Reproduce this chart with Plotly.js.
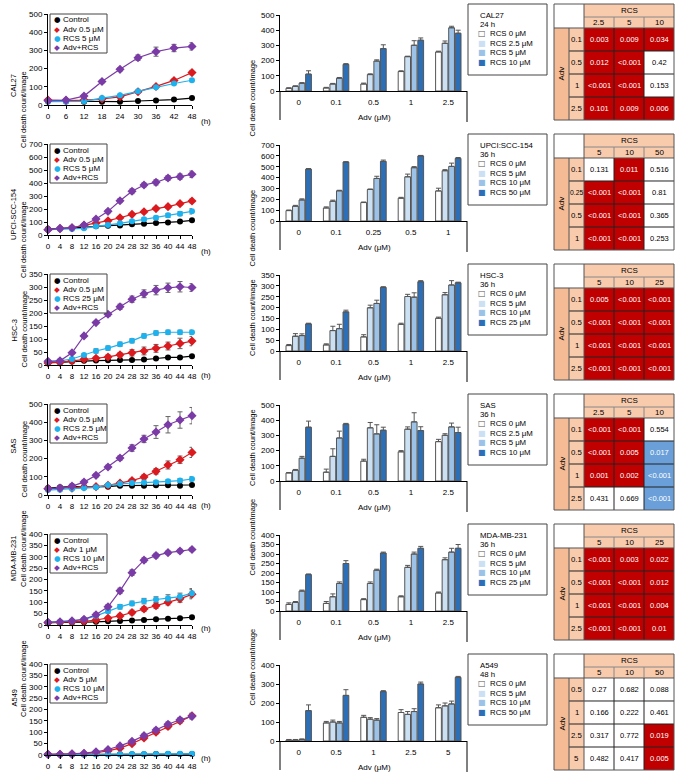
<!DOCTYPE html>
<html><head><meta charset="utf-8">
<script src="https://cdn.plot.ly/plotly-3.0.1.min.js"></script>
<style>html,body{margin:0;padding:0;background:#fff}#chart{width:677px;height:775px}</style>
</head><body><div id="chart"></div>
<script>
// ================= DATA =================
const hours6 = [0,6,12,18,24,30,36,42,48];
const hours4 = [0,4,8,12,16,20,24,28,32,36,40,44,48];

// --- CAL27 time course ---
const cal27Names = ['Control','Adv 0.5 μM','RCS 5 μM','Adv+RCS'];
const cal27Control = [22,20,18,18,18,22,25,30,38];
const cal27Adv     = [27,24,27,33,45,73,102,135,178];
const cal27Rcs     = [18,18,20,38,53,75,98,118,136];
const cal27Combo   = [24,27,49,129,196,260,293,313,322];
const cal27ControlErr = [3,3,3,3,3,3,3,4,4];
const cal27AdvErr     = [3,3,3,4,5,6,6,8,12];
const cal27RcsErr     = [3,3,3,4,5,5,6,6,8];
const cal27ComboErr   = [3,3,5,8,10,15,25,20,20];

// --- UPCI-SCC-154 time course ---
const upciNames = ['Control','Adv 0.5 μM','RCS 5 μM','Adv+RCS'];
const upciControl = [46,49,54,59,67,72,74,82,87,92,97,103,113];
const upciAdv     = [41,49,56,74,90,110,133,159,179,203,218,241,262];
const upciRcs     = [41,46,46,51,67,77,90,105,121,133,151,164,182];
const upciCombo   = [41,51,56,77,123,182,264,336,385,405,438,449,467];
const upciControlErr = [5,5,5,5,5,5,6,6,6,6,6,6,8];
const upciAdvErr     = [5,5,5,6,6,8,8,8,10,10,12,12,15];
const upciRcsErr     = [5,5,5,6,10,8,8,10,10,12,15,15,20];
const upciComboErr   = [5,5,6,8,10,12,15,18,15,20,18,20,25];

// --- HSC-3 time course ---
const hsc3Names = ['Control','Adv 0.5 μM','RCS 25 μM','Adv+RCS'];
const hsc3Control = [10,10,13,16,17,18,19,19,21,25,29,29,34];
const hsc3Adv     = [8,10,16,22,26,31,39,47,54,64,73,83,92];
const hsc3Rcs     = [13,16,23,38,54,65,80,93,112,123,126,126,126];
const hsc3Combo   = [14,16,47,112,163,195,224,253,274,288,297,301,298];
const hsc3ControlErr = [3,3,3,3,3,3,3,4,4,4,4,4,4];
const hsc3AdvErr     = [3,3,4,5,6,8,8,12,15,15,15,20,18];
const hsc3RcsErr     = [3,3,4,5,8,8,8,8,8,8,8,8,8];
const hsc3ComboErr   = [3,3,5,5,5,8,10,12,15,18,18,20,15];

// --- SAS time course ---
const sasNames = ['Control','Adv 0.5 μM','RCS 2.5 μM','Adv+RCS'];
const sasControl = [38,42,48,44,44,46,51,51,51,53,53,51,55];
const sasAdv     = [35,37,38,44,46,53,66,79,99,130,165,194,234];
const sasRcs     = [27,29,35,38,42,55,62,66,68,70,75,79,88];
const sasCombo   = [35,38,49,71,108,154,203,258,308,346,386,412,436];
const sasControlErr = [5,5,12,8,5,5,5,5,5,5,5,5,5];
const sasAdvErr     = [5,5,5,6,6,6,8,10,12,15,22,20,28];
const sasRcsErr     = [5,5,5,6,6,8,8,8,8,8,8,10,12];
const sasComboErr   = [5,5,8,10,10,10,12,18,20,35,45,45,45];

// --- MDA-MB-231 time course ---
const mdaNames = ['Control','Adv 1 μM','RCS 10 μM','Adv+RCS'];
const mdaControl = [10,10,11,12,14,16,18,20,22,25,28,30,34];
const mdaAdv     = [10,11,13,16,22,30,40,55,70,85,100,115,135];
const mdaRcs     = [12,14,18,25,40,60,80,95,105,112,118,125,140];
const mdaCombo   = [12,14,18,25,45,80,150,230,285,305,318,325,332];
const mdaControlErr = [3,3,3,3,3,3,3,3,4,4,4,4,5];
const mdaAdvErr     = [3,3,3,4,5,6,8,10,10,12,12,15,20];
const mdaRcsErr     = [3,3,4,5,6,8,10,10,12,12,15,15,20];
const mdaComboErr   = [3,3,4,5,8,10,12,12,10,10,8,8,8];

// --- A549 time course ---
const a549Names = ['Control','Adv 5 μM','RCS 10 μM','Adv+RCS'];
const a549Control = [2,2,2,2,3,3,3,3,3,4,4,4,4];
const a549Adv     = [3,3,4,6,10,18,30,50,75,100,125,150,172];
const a549Rcs     = [2,2,2,2,3,3,3,4,4,4,5,5,5];
const a549Combo   = [3,3,5,8,14,24,40,60,85,110,135,155,170];
const a549ControlErr = [1,1,1,1,1,1,1,1,1,1,1,1,1];
const a549AdvErr     = [1,1,2,2,3,4,5,6,8,8,10,10,12];
const a549RcsErr     = [1,1,1,1,1,1,1,1,1,1,1,1,1];
const a549ComboErr   = [1,1,2,2,3,4,5,6,8,8,10,10,12];

// --- Bar charts (cell death at fixed time) ---
const cal27AdvDoses = ['0','0.1','0.5','1','2.5'];
const cal27RcsLabels = ['RCS 0 μM','RCS 2.5 μM','RCS 5 μM','RCS 10 μM'];
const cal27Bar0 = [18,20,46,128,257];   const cal27Bar0Err = [3,4,6,5,5];
const cal27Bar1 = [31,46,108,226,314];  const cal27Bar1Err = [3,4,5,3,15];
const cal27Bar2 = [51,84,197,301,416];  const cal27Bar2Err = [4,5,8,30,10];
const cal27Bar3 = [111,175,279,334,380];const cal27Bar3Err = [22,5,25,15,20];

const upciAdvDoses = ['0','0.1','0.25','0.5','1'];
const upciRcsLabels = ['RCS 0 μM','RCS 5 μM','RCS 10 μM','RCS 50 μM'];
const upciBar0 = [96,120,170,210,277];  const upciBar0Err = [5,10,5,8,25];
const upciBar1 = [136,182,290,407,463]; const upciBar1Err = [8,10,5,25,10];
const upciBar2 = [194,278,392,491,503]; const upciBar2Err = [10,5,20,10,30];
const upciBar3 = [478,543,549,599,577]; const upciBar3Err = [5,3,12,5,8];

const hsc3AdvDoses = ['0','0.1','0.5','1','2.5'];
const hsc3RcsLabels = ['RCS 0 μM','RCS 5 μM','RCS 10 μM','RCS 25 μM'];
const hsc3Bar0 = [25,28,65,123,151];    const hsc3Bar0Err = [5,5,10,5,5];
const hsc3Bar1 = [68,94,199,251,259];   const hsc3Bar1Err = [12,20,12,10,10];
const hsc3Bar2 = [71,103,219,248,304];  const hsc3Bar2Err = [8,20,15,20,20];
const hsc3Bar3 = [125,180,293,319,314]; const hsc3Bar3Err = [3,8,3,5,3];

const sasAdvDoses = ['0','0.1','0.5','1','2.5'];
const sasRcsLabels = ['RCS 0 μM','RCS 2.5 μM','RCS 5 μM','RCS 10 μM'];
const sasBar0 = [53,58,131,192,259];    const sasBar0Err = [3,20,12,8,15];
const sasBar1 = [71,162,350,341,301];   const sasBar1Err = [5,50,35,15,10];
const sasBar2 = [150,283,310,389,356];  const sasBar2Err = [12,45,60,60,25];
const sasBar3 = [354,374,334,332,319];  const sasBar3Err = [40,5,20,25,35];

const mdaAdvDoses = ['0','0.1','0.5','1','2.5'];
const mdaRcsLabels = ['RCS 0 μM','RCS 5 μM','RCS 10 μM','RCS 25 μM'];
const mdaBar0 = [35,40,60,75,95];       const mdaBar0Err = [8,10,5,5,5];
const mdaBar1 = [45,75,145,230,270];    const mdaBar1Err = [5,15,8,10,10];
const mdaBar2 = [105,145,215,300,310];  const mdaBar2Err = [5,8,5,10,20];
const mdaBar3 = [192,250,305,330,330];  const mdaBar3Err = [3,15,5,10,20];

const a549AdvDoses = ['0','0.5','1','2.5','5'];
const a549RcsLabels = ['RCS 0 μM','RCS 5 μM','RCS 10 μM','RCS 50 μM'];
const a549Bar0 = [5,95,125,150,175];    const a549Bar0Err = [3,8,10,15,15];
const a549Bar1 = [5,100,115,140,185];   const a549Bar1Err = [3,10,8,15,15];
const a549Bar2 = [8,95,110,155,195];    const a549Bar2Err = [3,8,8,15,15];
const a549Bar3 = [160,240,260,300,335]; const a549Bar3Err = [30,30,5,10,5];

const barCellLabels = ['CAL27','UPCI:SCC-154','HSC-3','SAS','MDA-MB-231','A549'];
const barTimes = ['24 h','36 h','36 h','36 h','36 h','48 h'];
const lineCellLabels = ['CAL27','UPCI-SCC-154','HSC-3','SAS','MDA-MB-231','A549'];

// --- P-value tables (0 = white, 1 = red, 2 = blue) ---
const cal27TabRcs = ['2.5','5','10'];  const cal27TabAdv = ['0.1','0.5','1','2.5'];
const cal27TabP = [['0.003','0.009','0.034'],['0.012','<0.001','0.42'],['<0.001','<0.001','0.153'],['0.101','0.009','0.006']];
const cal27TabC = [[1,1,1],[1,1,0],[1,1,0],[1,1,1]];

const upciTabRcs = ['5','10','50'];  const upciTabAdv = ['0.1','0.25','0.5','1'];
const upciTabP = [['0.131','0.011','0.516'],['<0.001','<0.001','0.81'],['<0.001','<0.001','0.365'],['<0.001','<0.001','0.253']];
const upciTabC = [[0,1,0],[1,1,0],[1,1,0],[1,1,0]];

const hsc3TabRcs = ['5','10','25'];  const hsc3TabAdv = ['0.1','0.5','1','2.5'];
const hsc3TabP = [['0.005','<0.001','<0.001'],['<0.001','<0.001','<0.001'],['<0.001','<0.001','<0.001'],['<0.001','<0.001','<0.001']];
const hsc3TabC = [[1,1,1],[1,1,1],[1,1,1],[1,1,1]];

const sasTabRcs = ['2.5','5','10'];  const sasTabAdv = ['0.1','0.5','1','2.5'];
const sasTabP = [['<0.001','<0.001','0.554'],['<0.001','0.005','0.017'],['0.001','0.002','<0.001'],['0.431','0.669','<0.001']];
const sasTabC = [[1,1,0],[1,1,2],[1,1,2],[0,0,2]];

const mdaTabRcs = ['5','10','25'];  const mdaTabAdv = ['0.1','0.5','1','2.5'];
const mdaTabP = [['<0.001','0.003','0.022'],['<0.001','<0.001','0.012'],['<0.001','<0.001','0.004'],['<0.001','<0.001','0.01']];
const mdaTabC = [[1,1,1],[1,1,1],[1,1,1],[1,1,1]];

const a549TabRcs = ['5','10','50'];  const a549TabAdv = ['0.5','1','2.5','5'];
const a549TabP = [['0.27','0.682','0.088'],['0.166','0.222','0.461'],['0.317','0.772','0.019'],['0.482','0.417','0.005']];
const a549TabC = [[0,0,0],[0,0,0],[0,0,1],[0,0,1]];

// ================= ASSEMBLY =================
const rows = [
 {hours:hours6, names:cal27Names, ser:[cal27Control,cal27Adv,cal27Rcs,cal27Combo], err:[cal27ControlErr,cal27AdvErr,cal27RcsErr,cal27ComboErr], ymax:500, ydt:100,
  doses:cal27AdvDoses, rcsLab:cal27RcsLabels, bars:[cal27Bar0,cal27Bar1,cal27Bar2,cal27Bar3], barErr:[cal27Bar0Err,cal27Bar1Err,cal27Bar2Err,cal27Bar3Err], bmax:500, bdt:100,
  tRcs:cal27TabRcs, tAdv:cal27TabAdv, tP:cal27TabP, tC:cal27TabC, nameY:72},
 {hours:hours4, names:upciNames, ser:[upciControl,upciAdv,upciRcs,upciCombo], err:[upciControlErr,upciAdvErr,upciRcsErr,upciComboErr], ymax:700, ydt:100,
  doses:upciAdvDoses, rcsLab:upciRcsLabels, bars:[upciBar0,upciBar1,upciBar2,upciBar3], barErr:[upciBar0Err,upciBar1Err,upciBar2Err,upciBar3Err], bmax:700, bdt:100,
  tRcs:upciTabRcs, tAdv:upciTabAdv, tP:upciTabP, tC:upciTabC, nameY:57},
 {hours:hours4, names:hsc3Names, ser:[hsc3Control,hsc3Adv,hsc3Rcs,hsc3Combo], err:[hsc3ControlErr,hsc3AdvErr,hsc3RcsErr,hsc3ComboErr], ymax:350, ydt:50,
  doses:hsc3AdvDoses, rcsLab:hsc3RcsLabels, bars:[hsc3Bar0,hsc3Bar1,hsc3Bar2,hsc3Bar3], barErr:[hsc3Bar0Err,hsc3Bar1Err,hsc3Bar2Err,hsc3Bar3Err], bmax:350, bdt:50,
  tRcs:hsc3TabRcs, tAdv:hsc3TabAdv, tP:hsc3TabP, tC:hsc3TabC, nameY:70},
 {hours:hours4, names:sasNames, ser:[sasControl,sasAdv,sasRcs,sasCombo], err:[sasControlErr,sasAdvErr,sasRcsErr,sasComboErr], ymax:500, ydt:100,
  doses:sasAdvDoses, rcsLab:sasRcsLabels, bars:[sasBar0,sasBar1,sasBar2,sasBar3], barErr:[sasBar0Err,sasBar1Err,sasBar2Err,sasBar3Err], bmax:500, bdt:100,
  tRcs:sasTabRcs, tAdv:sasTabAdv, tP:sasTabP, tC:sasTabC, nameY:56},
 {hours:hours4, names:mdaNames, ser:[mdaControl,mdaAdv,mdaRcs,mdaCombo], err:[mdaControlErr,mdaAdvErr,mdaRcsErr,mdaComboErr], ymax:400, ydt:50,
  doses:mdaAdvDoses, rcsLab:mdaRcsLabels, bars:[mdaBar0,mdaBar1,mdaBar2,mdaBar3], barErr:[mdaBar0Err,mdaBar1Err,mdaBar2Err,mdaBar3Err], bmax:400, bdt:50,
  tRcs:mdaTabRcs, tAdv:mdaTabAdv, tP:mdaTabP, tC:mdaTabC, nameY:63},
 {hours:hours4, names:a549Names, ser:[a549Control,a549Adv,a549Rcs,a549Combo], err:[a549ControlErr,a549AdvErr,a549RcsErr,a549ComboErr], ymax:400, ydt:50,
  doses:a549AdvDoses, rcsLab:a549RcsLabels, bars:[a549Bar0,a549Bar1,a549Bar2,a549Bar3], barErr:[a549Bar0Err,a549Bar1Err,a549Bar2Err,a549Bar3Err], bmax:400, bdt:100,
  tRcs:a549TabRcs, tAdv:a549TabAdv, tP:a549TabP, tC:a549TabC, nameY:59}
];

const W = 677, H = 775;
const FONT = 'Liberation Sans, Arial, sans-serif';
const px = v => v / W, py = v => 1 - v / H;
const sfx = n => n === 1 ? '' : String(n);
const offs = [0,130,260,390,520,650];
const lineColors = ['#000000','#DA1A1F','#1DB2EE','#7B3BA6'];
const lineSymbols = ['circle','diamond','circle','diamond'];
const glyphs = ['●','◆','●','◆'];
const barColors = ['#FFFFFF','#CCE0F3','#9CC3E7','#2C6FB7'];
const RED = '#C00000', BLUE = '#6A9FD9', PEACH = '#F8CBAD', PEACH2 = '#F5BB95';

const traces = [];
const layout = {
  width: W, height: H, margin: {l:0,r:0,t:0,b:0},
  paper_bgcolor: '#ffffff', plot_bgcolor: 'rgba(0,0,0,0)',
  showlegend: false, hovermode: false, barmode: 'group', bargap: 0.3, bargroupgap: 0.12,
  font: {family: FONT, size: 8, color: '#000'},
  shapes: [], annotations: []
};
const ann = o => layout.annotations.push(Object.assign({showarrow:false, font:{family:FONT,size:7.5,color:'#000'}}, o));
const pline = (x0,y0,x1,y1,c,w) => layout.shapes.push({type:'line',xref:'paper',yref:'paper',x0:px(x0),y0:py(y0),x1:px(x1),y1:py(y1),line:{color:c||'#000',width:w||1}});

rows.forEach((r, i) => {
  const off = offs[i];
  const nL = 3*i+1, nB = 3*i+2, nT = 3*i+3;

  // ---------- line chart ----------
  layout['xaxis'+sfx(nL)] = {domain:[px(48),px(192)], anchor:'y'+sfx(nL), range:[0,48], tickmode:'array', tickvals:r.hours,
    showline:true, linecolor:'#000', linewidth:1, ticks:'outside', ticklen:3, tickwidth:1, tickcolor:'#000', showgrid:false, zeroline:false,
    tickfont:{family:FONT,size:8}, fixedrange:true};
  layout['yaxis'+sfx(nL)] = {domain:[py(off+105),py(off+14)], anchor:'x'+sfx(nL), range:[0,r.ymax], tick0:0, dtick:r.ydt,
    showline:true, linecolor:'#000', linewidth:1, ticks:'outside', ticklen:3, tickwidth:1, tickcolor:'#000', showgrid:false, zeroline:false,
    tickfont:{family:FONT,size:8}, fixedrange:true};
  r.ser.forEach((s, k) => {
    traces.push({type:'scatter', mode:'lines+markers', x:r.hours, y:s, xaxis:'x'+sfx(nL), yaxis:'y'+sfx(nL), cliponaxis:false,
      line:{color:lineColors[k], width:1.2},
      marker:{color:lineColors[k], symbol:lineSymbols[k], size:lineSymbols[k]==='diamond'?7:6},
      error_y:{type:'data', array:r.err[k], visible:true, color:'#666', thickness:1, width:2.5}});
  });
  // legend for line chart (box + one text per entry)
  layout.shapes.push({type:'rect',xref:'paper',yref:'paper',x0:px(50),x1:px(107),y0:py(off+14),y1:py(off+53),line:{color:'#444',width:1},fillcolor:'rgba(255,255,255,0.9)'});
  r.names.forEach((n,k) => {
    const yy = off + 20 + k*9.2;
    ann({xref:'paper',yref:'paper',x:px(57),y:py(yy),xanchor:'center',yanchor:'middle',text:glyphs[k],font:{family:'DejaVu Sans',size:7.5,color:lineColors[k]}});
    ann({xref:'paper',yref:'paper',x:px(61),y:py(yy),xanchor:'left',yanchor:'middle',text:n,font:{family:FONT,size:8,color:'#000'}});
  });
  // axis titles
  ann({xref:'paper',yref:'paper',x:px(7),y:py(off+r.nameY),textangle:-90,text:lineCellLabels[i]});
  ann({xref:'paper',yref:'paper',x:px(17),y:py(off+69),textangle:-90,text:'Cell death count/image'});
  ann({xref:'paper',yref:'paper',x:px(199),y:py(off+115),text:'(h)',font:{family:FONT,size:8,color:'#000'}});

  // ---------- bar chart ----------
  layout['xaxis'+sfx(nB)] = {domain:[px(280),px(467)], anchor:'y'+sfx(nB), type:'category',
    showline:true, linecolor:'#000', linewidth:1, ticks:'', ticklabelstandoff:3, showgrid:false, zeroline:false,
    tickfont:{family:FONT,size:8}, fixedrange:true};
  layout['yaxis'+sfx(nB)] = {domain:[py(off+91),py(off+15)], anchor:'x'+sfx(nB), range:[0,r.bmax], tick0:0, dtick:r.bdt,
    showline:true, linecolor:'#000', linewidth:1, ticks:'outside', ticklen:3, tickwidth:1, tickcolor:'#000', showgrid:false, zeroline:false,
    tickfont:{family:FONT,size:8}, fixedrange:true};
  r.bars.forEach((b, k) => {
    traces.push({type:'bar', x:r.doses, y:b, name:r.rcsLab[k], xaxis:'x'+sfx(nB), yaxis:'y'+sfx(nB),
      marker:{color:barColors[k], line:{color:'#555', width:1}},
      error_y:{type:'data', symmetric:false, array:r.barErr[k], arrayminus:r.barErr[k].map(()=>0), visible:true, color:'#555', thickness:1, width:2.5}});
  });
  pline(280, off+91, 280, off+120);
  pline(467, off+91, 467, off+122);
  ann({xref:'paper',yref:'paper',x:px(252),y:py(off+58),textangle:-90,text:'Cell death count/image'});
  ann({xref:'paper',yref:'paper',x:px(374),y:py(off+117),yanchor:'middle',text:'Adv (μM)',font:{family:FONT,size:8,color:'#000'}});
  // legend for bars (box + one text per line)
  layout.shapes.push({type:'rect',xref:'paper',yref:'paper',x0:px(468),x1:px(547),y0:py(off+4),y1:py(off+75),line:{color:'#444',width:1},fillcolor:'#fff'});
  ann({xref:'paper',yref:'paper',x:px(478),y:py(off+15),xanchor:'left',yanchor:'middle',text:barCellLabels[i],font:{family:FONT,size:7.8,color:'#000'}});
  ann({xref:'paper',yref:'paper',x:px(478),y:py(off+24.3),xanchor:'left',yanchor:'middle',text:barTimes[i],font:{family:FONT,size:7.8,color:'#000'}});
  r.rcsLab.forEach((n,k) => {
    const yy = off + 33.6 + k*9.5;
    ann({xref:'paper',yref:'paper',x:px(482),y:py(yy),xanchor:'center',yanchor:'middle',text:k===0?'□':'■',
      font:{family:'DejaVu Sans',size:8,color:k===0?'#555':barColors[k]}});
    ann({xref:'paper',yref:'paper',x:px(488),y:py(yy),xanchor:'left',yanchor:'middle',text:n,font:{family:FONT,size:7.8,color:'#000'}});
  });

  // ---------- p-value table ----------
  const xa = 'x'+sfx(nT), ya = 'y'+sfx(nT);
  layout['xaxis'+sfx(nT)] = {domain:[px(554),px(674)], anchor:ya, range:[-1.5,2.5], visible:false, fixedrange:true};
  layout['yaxis'+sfx(nT)] = {domain:[py(off+120),py(off+4)], anchor:xa, range:[4,-1.043], visible:false, fixedrange:true};
  const HR = -1.043, SH = -0.478;
  const rect = (x0,x1,y0,y1,fill) => layout.shapes.push({type:'rect',xref:xa,yref:ya,x0,x1,y0,y1,fillcolor:fill,line:{width:0},layer:'below'});
  rect(-0.5,2.5,HR,0,PEACH);
  rect(-1.5,-1.0,0,4,PEACH2);
  rect(-1.0,-0.5,0,4,PEACH);
  const cellsY = r.tAdv.map((_,k)=>k+0.5);
  const cellsX = r.tRcs.map((_,k)=>k);
  traces.push({type:'heatmap', x:cellsX, y:cellsY, z:r.tC, xaxis:xa, yaxis:ya, zmin:0, zmax:2, showscale:false, hoverinfo:'skip',
    colorscale:[[0,'#FFFFFF'],[0.5,RED],[1,BLUE]]});
  const dl = (x0,y0,x1,y1,c) => layout.shapes.push({type:'line',xref:xa,yref:ya,x0,y0,x1,y1,line:{color:c,width:1}});
  [1,2,3].forEach(y => dl(-1.0,y,2.5,y,'#222'));
  dl(-1.5,0,2.5,0,'#555');
  dl(-0.5,SH,2.5,SH,'#888');
  [0.5,1.5].forEach(x => { dl(x,SH,x,0,'#888'); dl(x,0,x,4,'#222'); });
  dl(-0.5,HR,-0.5,4,'#555');
  dl(-1.0,0,-1.0,4,'#555');
  layout.shapes.push({type:'rect',xref:xa+' domain',yref:ya+' domain',x0:0,x1:1,y0:0,y1:1,line:{color:'#555',width:1}});
  ann({xref:xa,yref:ya,x:1,y:(HR+SH)/2,text:'RCS',font:{family:FONT,size:8,color:'#000'}});
  r.tRcs.forEach((t,k)=>ann({xref:xa,yref:ya,x:k,y:SH/2,text:t,font:{family:FONT,size:8,color:'#000'}}));
  r.tAdv.forEach((t,k)=>ann({xref:xa,yref:ya,x:-0.75,y:k+0.5,text:t,font:{family:FONT,size:t.length>3?6.8:7.8,color:'#000'}}));
  ann({xref:xa,yref:ya,x:-1.25,y:2,text:'Adv',textangle:-90,font:{family:FONT,size:8,color:'#000'}});
  r.tP.forEach((row,ri)=>row.forEach((p,ci)=>ann({xref:xa,yref:ya,x:ci,y:ri+0.5,text:p,
    font:{family:FONT,size:7.5,color:r.tC[ri][ci]===0?'#000':'#fff'}})));
});

Plotly.newPlot('chart', traces, layout, {staticPlot:true, displayModeBar:false});
</script>
</body></html>
